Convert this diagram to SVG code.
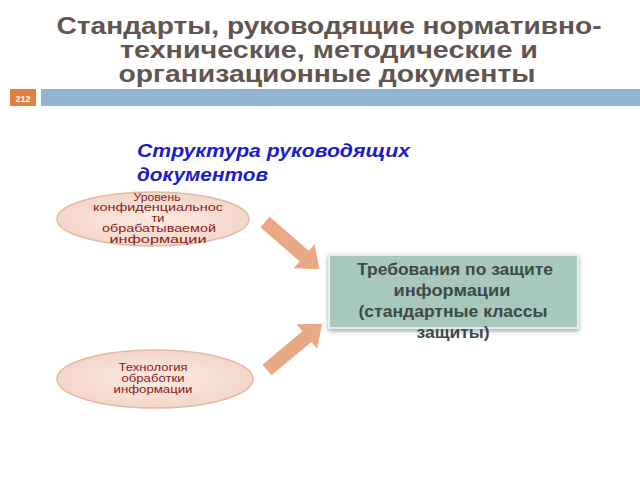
<svg xmlns="http://www.w3.org/2000/svg" width="640" height="480" viewBox="0 0 640 480">
<defs>
<radialGradient id="eg" cx="0.5" cy="0.5" r="0.6">
<stop offset="0" stop-color="#fbeae2"/>
<stop offset="1" stop-color="#f2d3c4"/>
</radialGradient>
<filter id="sh" x="-10%" y="-10%" width="120%" height="130%">
<feDropShadow dx="0" dy="2" stdDeviation="2" flood-color="#000" flood-opacity="0.35"/>
</filter>
<style>
.title{font-family:"Liberation Sans",Arial,sans-serif;font-weight:bold;font-size:24.5px;fill:#62554f;text-anchor:middle}
.sub{font-family:"Liberation Sans",Arial,sans-serif;font-weight:bold;font-style:italic;font-size:19px;fill:#1c1cc8}
.ell{fill:url(#eg);stroke:#e3b9a6;stroke-width:1.5}
.et{font-family:"Liberation Sans",Arial,sans-serif;font-size:10.5px;fill:#8b1a1a;text-anchor:middle}
.bt{font-family:"Liberation Sans",Arial,sans-serif;font-weight:bold;font-size:16.5px;fill:#3d4b45;text-anchor:middle}
.arr{fill:#eaa985}
</style>
</defs>
<rect width="640" height="480" fill="#ffffff"/>
<text class="title" x="329" y="34" textLength="545" lengthAdjust="spacingAndGlyphs">Стандарты, руководящие нормативно-</text>
<text class="title" x="329" y="58" textLength="418" lengthAdjust="spacingAndGlyphs">технические, методические и</text>
<text class="title" x="327" y="82" textLength="417" lengthAdjust="spacingAndGlyphs">организационные документы</text>
<rect x="10" y="89" width="26" height="17" fill="#e0803f"/>
<text x="23" y="101.5" font-family="Liberation Sans,Arial,sans-serif" font-weight="bold" font-size="9px" fill="#ffffff" text-anchor="middle">212</text>
<rect x="41" y="89" width="599" height="17" fill="#93b4d2"/>
<text class="sub" x="137" y="157" textLength="273" lengthAdjust="spacingAndGlyphs">Структура руководящих</text>
<text class="sub" x="137" y="181" textLength="131" lengthAdjust="spacingAndGlyphs">документов</text>
<g id="n1">
<ellipse class="ell" cx="153" cy="219" rx="96" ry="27"/>
<text class="et" x="157" y="200.5" textLength="47" lengthAdjust="spacingAndGlyphs">Уровень</text>
<text class="et" x="158" y="211" textLength="130" lengthAdjust="spacingAndGlyphs">конфиденциальнос</text>
<text class="et" x="158" y="221.5" textLength="13" lengthAdjust="spacingAndGlyphs">ти</text>
<text class="et" x="159" y="232" textLength="114" lengthAdjust="spacingAndGlyphs">обрабатываемой</text>
<text class="et" x="158" y="242.5" textLength="97" lengthAdjust="spacingAndGlyphs">информации</text>
</g>
<g id="n2">
<ellipse class="ell" cx="155" cy="379" rx="98" ry="29"/>
<text class="et" x="153" y="371" textLength="69" lengthAdjust="spacingAndGlyphs">Технология</text>
<text class="et" x="153" y="382" textLength="63" lengthAdjust="spacingAndGlyphs">обработки</text>
<text class="et" x="153" y="393" textLength="79" lengthAdjust="spacingAndGlyphs">информации</text>
</g>
<g id="n3">
<rect x="329" y="255" width="249" height="73" fill="#a8c7bd" stroke="#e6efeb" stroke-width="2" filter="url(#sh)"/>
<text class="bt" x="455" y="275" textLength="196" lengthAdjust="spacingAndGlyphs">Требования по защите</text>
<text class="bt" x="452" y="296" textLength="117" lengthAdjust="spacingAndGlyphs">информации</text>
<text class="bt" x="453" y="317" textLength="189" lengthAdjust="spacingAndGlyphs">(стандартные классы</text>
<text class="bt" x="453" y="338" textLength="73" lengthAdjust="spacingAndGlyphs">защиты)</text>
</g>
<g id="connectors">
<polygon class="arr" transform="translate(265,222) rotate(41)" points="0,-7 52,-7 52,-16 72,0 52,16 52,7 0,7"/>
<polygon class="arr" transform="translate(267,370) rotate(-40)" points="0,-7 52,-7 52,-16 72,0 52,16 52,7 0,7"/>
</g>
</svg>
